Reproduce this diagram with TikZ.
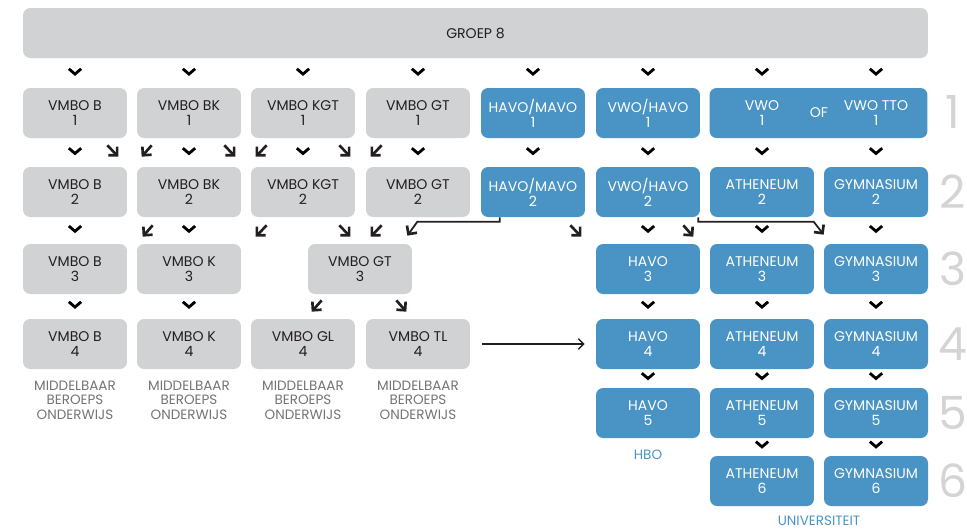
\documentclass[tikz,border=0pt]{standalone}
\usepackage{fontspec}
\setmainfont{Poppins}
\usetikzlibrary{arrows.meta, positioning, calc, decorations.markings}
\definecolor{boxgray}{HTML}{D1D2D4}
\definecolor{boxblue}{HTML}{4A94C5}
\definecolor{notegray}{HTML}{747474}
\definecolor{numgray}{HTML}{D4D4D4}
\definecolor{inkdark}{HTML}{231F20}
\tikzset{
  box/.style={
    rectangle, rounded corners=4pt, minimum width=2.08cm, minimum height=1cm,
    align=center, fill=boxgray, text=inkdark, font=\fontsize{8}{8.5}\selectfont
  },
  bluebox/.style={
    box, fill=boxblue, text=white
  },
  note/.style={
    align=center, text=notegray, font=\fontsize{7.7}{8.5}\selectfont
  },
  bluenote/.style={note, text=boxblue},
  rownum/.style={text=numgray, font=\fontsize{26}{26}\selectfont},
  chev/.style={
    postaction={decorate},
    decoration={markings, mark=at position 0.6 with {\arrow{Straight Barb[length=3pt, width=7pt, line width=1.6pt]}}}
  },
  diag/.style={
    -{Straight Barb[length=3.5pt, width=7pt, line width=1.5pt]}, line width=1.5pt, color=inkdark
  },
  link/.style={
    diag, line width=1pt
  },
  arrow/.style={
    -{Straight Barb[length=3pt, width=6pt]}, line width=0.8pt, color=inkdark
  }
}

\begin{document}
\begin{tikzpicture}[x=0.02cm, y=-0.02cm]
\useasboundingbox (0,0) rectangle (967,529);
\node[box, minimum width=18.1cm] (groep) at (475.5,33) {GROEP 8};
% leerjaar 1
\node[box] (b1) at (75,113) {VMBO B\\1};
\node[box] (bk1) at (189,113) {VMBO BK\\1};
\node[box] (kgt1) at (303,113) {VMBO KGT\\1};
\node[box] (gt1) at (418,113) {VMBO GT\\1};
\node[bluebox] (hm1) at (533,113) {HAVO/MAVO\\1};
\node[bluebox] (vh1) at (648,113) {VWO/HAVO\\1};
\node[bluebox, minimum width=4.36cm] (vwo1) at (818.5,113) {};
\node[bluebox, fill=none] (vwo1a) at (762,113) {VWO\\1};
\node[bluebox, fill=none, minimum width=0pt] (of1) at (819,113) {OF};
\node[bluebox, fill=none] (tto1) at (876,113) {VWO TTO\\1};
% leerjaar 2
\node[box] (b2) at (75,192) {VMBO B\\2};
\node[box] (bk2) at (189,192) {VMBO BK\\2};
\node[box] (kgt2) at (303,192) {VMBO KGT\\2};
\node[box] (gt2) at (418,192) {VMBO GT\\2};
\node[bluebox] (hm2) at (533,192) {HAVO/MAVO\\2};
\node[bluebox] (vh2) at (648,192) {VWO/HAVO\\2};
\node[bluebox] (ath2) at (762,192) {ATHENEUM\\2};
\node[bluebox] (gym2) at (876,192) {GYMNASIUM\\2};
% leerjaar 3
\node[box] (b3) at (75,269) {VMBO B\\3};
\node[box] (k3) at (189,269) {VMBO K\\3};
\node[box] (gt3) at (360,269) {VMBO GT\\3};
\node[bluebox] (havo3) at (648,269) {HAVO\\3};
\node[bluebox] (ath3) at (762,269) {ATHENEUM\\3};
\node[bluebox] (gym3) at (876,269) {GYMNASIUM\\3};
% leerjaar 4
\node[box] (b4) at (75,344) {VMBO B\\4};
\node[box] (k4) at (189,344) {VMBO K\\4};
\node[box] (gl4) at (303,344) {VMBO GL\\4};
\node[box] (tl4) at (418,344) {VMBO TL\\4};
\node[bluebox] (havo4) at (648,344) {HAVO\\4};
\node[bluebox] (ath4) at (762,344) {ATHENEUM\\4};
\node[bluebox] (gym4) at (876,344) {GYMNASIUM\\4};
% leerjaar 5 en 6
\node[bluebox] (havo5) at (648,413) {HAVO\\5};
\node[bluebox] (ath5) at (762,413) {ATHENEUM\\5};
\node[bluebox] (gym5) at (876,413) {GYMNASIUM\\5};
\node[bluebox] (ath6) at (762,481) {ATHENEUM\\6};
\node[bluebox] (gym6) at (876,481) {GYMNASIUM\\6};
% vervolg
\node[note, below=0.1cm of b4] (mbo1) {MIDDELBAAR\\BEROEPS\\ONDERWIJS};
\node[note, below=0.1cm of k4] (mbo2) {MIDDELBAAR\\BEROEPS\\ONDERWIJS};
\node[note, below=0.1cm of gl4] (mbo3) {MIDDELBAAR\\BEROEPS\\ONDERWIJS};
\node[note, below=0.1cm of tl4] (mbo4) {MIDDELBAAR\\BEROEPS\\ONDERWIJS};
\node[bluenote, below=0.1cm of havo5] (hbo) {HBO};
\node[bluenote, inner sep=1pt, below=0.154cm] (uni) at ($(ath6.south)!0.5!(gym6.south)$) {UNIVERSITEIT};
% leerjaren
\node[rownum] (n1) at (953,112) {1};
\node[rownum] (n2) at (953,192) {2};
\node[rownum] (n3) at (953,269) {3};
\node[rownum] (n4) at (953,344) {4};
\node[rownum] (n5) at (953,413) {5};
\node[rownum] (n6) at (953,481) {6};
% pijltjes recht omlaag
\path[chev] (groep.south -| b1) -- (b1.north);
\path[chev] (groep.south -| bk1) -- (bk1.north);
\path[chev] (groep.south -| kgt1) -- (kgt1.north);
\path[chev] (groep.south -| gt1) -- (gt1.north);
\path[chev] (groep.south -| hm1) -- (hm1.north);
\path[chev] (groep.south -| vh1) -- (vh1.north);
\path[chev] (groep.south -| vwo1a) -- (vwo1.north -| vwo1a);
\path[chev] (groep.south -| tto1) -- (vwo1.north -| tto1);
\path[chev] (b1) -- (b2);
\path[chev] (bk1) -- (bk2);
\path[chev] (kgt1) -- (kgt2);
\path[chev] (gt1) -- (gt2);
\path[chev] (hm1) -- (hm2);
\path[chev] (vh1) -- (vh2);
\path[chev] (vwo1.south -| ath2) -- (ath2.north);
\path[chev] (vwo1.south -| gym2) -- (gym2.north);
\path[chev] (b2) -- (b3);
\path[chev] (bk2) -- (k3);
\path[chev] (vh2) -- (havo3);
\path[chev] (ath2) -- (ath3);
\path[chev] (gym2) -- (gym3);
\path[chev] (b3) -- (b4);
\path[chev] (k3) -- (k4);
\path[chev] (havo3) -- (havo4);
\path[chev] (ath3) -- (ath4);
\path[chev] (gym3) -- (gym4);
\path[chev] (havo4) -- (havo5);
\path[chev] (ath4) -- (ath5);
\path[chev] (gym4) -- (gym5);
\path[chev] (ath5) -- (ath6);
\path[chev] (gym5) -- (gym6);
% schuine pijltjes
\draw[diag] ($(b1.south east)+(-20,7)$) -- ($(b1.south east |- bk2.north)+(-9,-10)$);
\draw[diag] ($(bk1.south west)+(15,7)$) -- ($(bk1.south west |- b2.north)+(5,-10)$);
\draw[diag] ($(bk1.south east)+(-17,7)$) -- ($(bk1.south east |- kgt2.north)+(-6,-10)$);
\draw[diag] ($(kgt1.south west)+(16,7)$) -- ($(kgt1.south west |- bk2.north)+(5,-10)$);
\draw[diag] ($(kgt1.south east)+(-16,7)$) -- ($(kgt1.south east |- gt2.north)+(-5,-10)$);
\draw[diag] ($(gt1.south west)+(16,7)$) -- ($(gt1.south west |- kgt2.north)+(5,-10)$);
\draw[diag] ($(bk2.south west)+(16,8)$) -- ($(bk2.south west |- b3.north)+(6,-7)$);
\draw[diag] ($(kgt2.south west)+(16,8)$) -- ($(kgt2.south west |- k3.north)+(5,-7)$);
\draw[diag] ($(kgt2.south east)+(-16,8)$) -- ($(kgt2.south east |- gt3.north)+(-5,-7)$);
\draw[diag] ($(gt2.south west)+(16,8)$) -- ($(gt2.south west |- gt3.north)+(5,-7)$);
\draw[link] ($(hm2.south west)+(19,0)$) |- ($(gt3.north east)+(5,-22)$) -- ($(gt3.north east)+(-5,-8)$);
\draw[diag] ($(hm2.south east)+(-15,8)$) -- ($(hm2.south east |- havo3.north)+(-4,-7)$);
\draw[diag] ($(vh2.south east)+(-17,8)$) -- ($(vh2.south east |- ath3.north)+(-7,-7)$);
\draw[link] ($(vh2.south east)+(-2,0)$) |- ($(gym3.north west)+(-10,-22)$) -- ($(gym3.north west)+(0,-9)$);
\draw[diag] ($(gt3.south west)+(14,6)$) -- ($(gt3.south west |- gl4.north)+(4,-7)$);
\draw[diag] ($(gt3.south east)+(-16,6)$) -- ($(gt3.south east |- tl4.north)+(-6,-7)$);
\draw[arrow, shorten <=0.24cm, shorten >=0.22cm] (tl4) -- (havo4);
\end{tikzpicture}
\end{document}
